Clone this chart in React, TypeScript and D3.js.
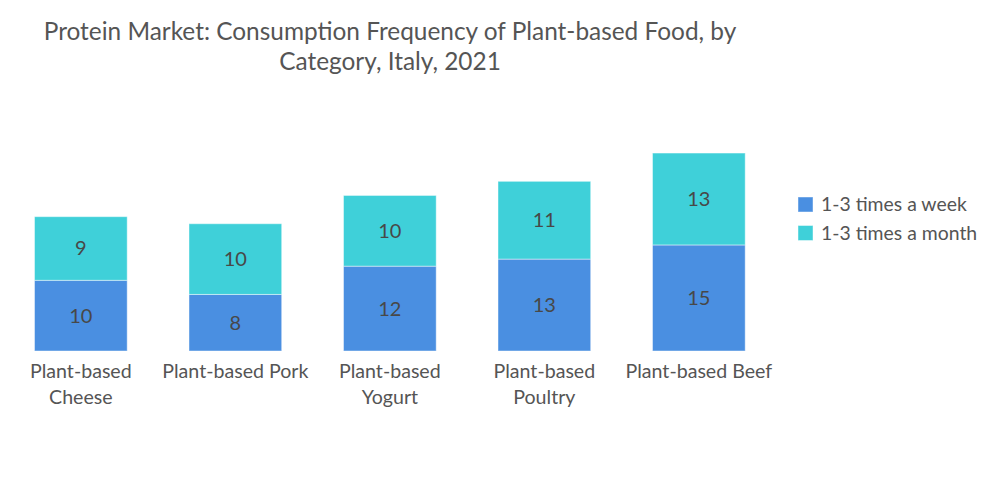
import { useEffect, useRef } from "react";
import * as d3 from "d3";

const categories = [
  "Plant-based Cheese",
  "Plant-based Pork",
  "Plant-based Yogurt",
  "Plant-based Poultry",
  "Plant-based Beef",
];
const seriesNames = ["1-3 times a week", "1-3 times a month"];
const weekly = [10, 8, 12, 13, 15];
const monthly = [9, 10, 10, 11, 13];
const colors = ["#4a8fe1", "#3fd0d9"];
const titleLines = [
  "Protein Market: Consumption Frequency of Plant-based Food, by",
  "Category, Italy, 2021",
];

const width = 1000;
const height = 504;
const font = "Lato, 'Open Sans', sans-serif";

export default function App() {
  const svgRef = useRef<SVGSVGElement>(null);

  useEffect(() => {
    const svg = d3.select(svgRef.current);
    svg.selectAll("*").remove();

    const x = d3
      .scaleBand<string>()
      .domain(categories)
      .range([3.6, 776.1])
      .paddingInner(0.4)
      .paddingOuter(0.2);
    const y = d3.scaleLinear().domain([0, 30]).range([351, 138.9]);

    // title
    svg
      .append("g")
      .selectAll("text")
      .data(titleLines)
      .join("text")
      .attr("x", 390)
      .attr("y", (_, i) => 40 + i * 30)
      .attr("text-anchor", "middle")
      .attr("fill", "#555")
      .style("font-family", font)
      .style("font-size", "24.4px")
      .text((d) => d);

    const rows = categories.map((c, i) => ({ cat: c, week: weekly[i], month: monthly[i] }));
    const stacked = d3.stack<any>().keys(["week", "month"])(rows);

    const layers = svg
      .append("g")
      .selectAll("g")
      .data(stacked)
      .join("g")
      .attr("fill", (_, i) => colors[i]);

    layers
      .selectAll("rect")
      .data((d) => d)
      .join("rect")
      .attr("x", (d) => x(d.data.cat)!)
      .attr("width", x.bandwidth())
      .attr("y", (d) => y(d[1]))
      .attr("height", (d) => y(d[0]) - y(d[1]))
      .attr("stroke", "rgba(255,255,255,0.45)")
      .attr("stroke-width", 1);

    layers
      .selectAll("text")
      .data((d) => d)
      .join("text")
      .attr("x", (d) => x(d.data.cat)! + x.bandwidth() / 2)
      .attr("y", (d) => (y(d[0]) + y(d[1])) / 2)
      .attr("dy", "0.35em")
      .attr("text-anchor", "middle")
      .attr("fill", "#484848")
      .style("font-family", font)
      .style("font-size", "20px")
      .text((d) => d[1] - d[0]);

    // category labels, wrapped to the band step
    const labels = svg
      .append("g")
      .selectAll("text")
      .data(categories)
      .join("text")
      .attr("x", (d) => x(d)! + x.bandwidth() / 2)
      .attr("y", 378)
      .attr("text-anchor", "middle")
      .attr("fill", "#555")
      .style("font-family", font)
      .style("font-size", "19.6px");

    labels.each(function (d) {
      const t = d3.select(this);
      const cx = x(d)! + x.bandwidth() / 2;
      const words = d.split(" ");
      let line: string[] = [];
      let tspan = t.append("tspan").attr("x", cx).attr("dy", 0);
      words.forEach((w) => {
        line.push(w);
        tspan.text(line.join(" "));
        if ((tspan.node() as SVGTSpanElement).getComputedTextLength() > 152 && line.length > 1) {
          line.pop();
          tspan.text(line.join(" "));
          line = [w];
          tspan = t.append("tspan").attr("x", cx).attr("dy", 26).text(w);
        }
      });
    });

    // legend
    const legend = svg
      .append("g")
      .selectAll("g")
      .data(seriesNames)
      .join("g")
      .attr("transform", (_, i) => `translate(798, ${197 + i * 28.5})`);
    legend
      .append("rect")
      .attr("width", 15)
      .attr("height", 15)
      .attr("fill", (_, i) => colors[i])
      .attr("stroke", "rgba(255,255,255,0.45)");
    legend
      .append("text")
      .attr("x", 23)
      .attr("y", 7.5)
      .attr("dy", "0.35em")
      .attr("fill", "#555")
      .style("font-family", font)
      .style("font-size", "19.4px")
      .text((d) => d);
  }, []);

  return (
    <svg
      ref={svgRef}
      width={width}
      height={height}
      style={{ position: "absolute", left: 0, top: 0, background: "#fff" }}
    />
  );
}
